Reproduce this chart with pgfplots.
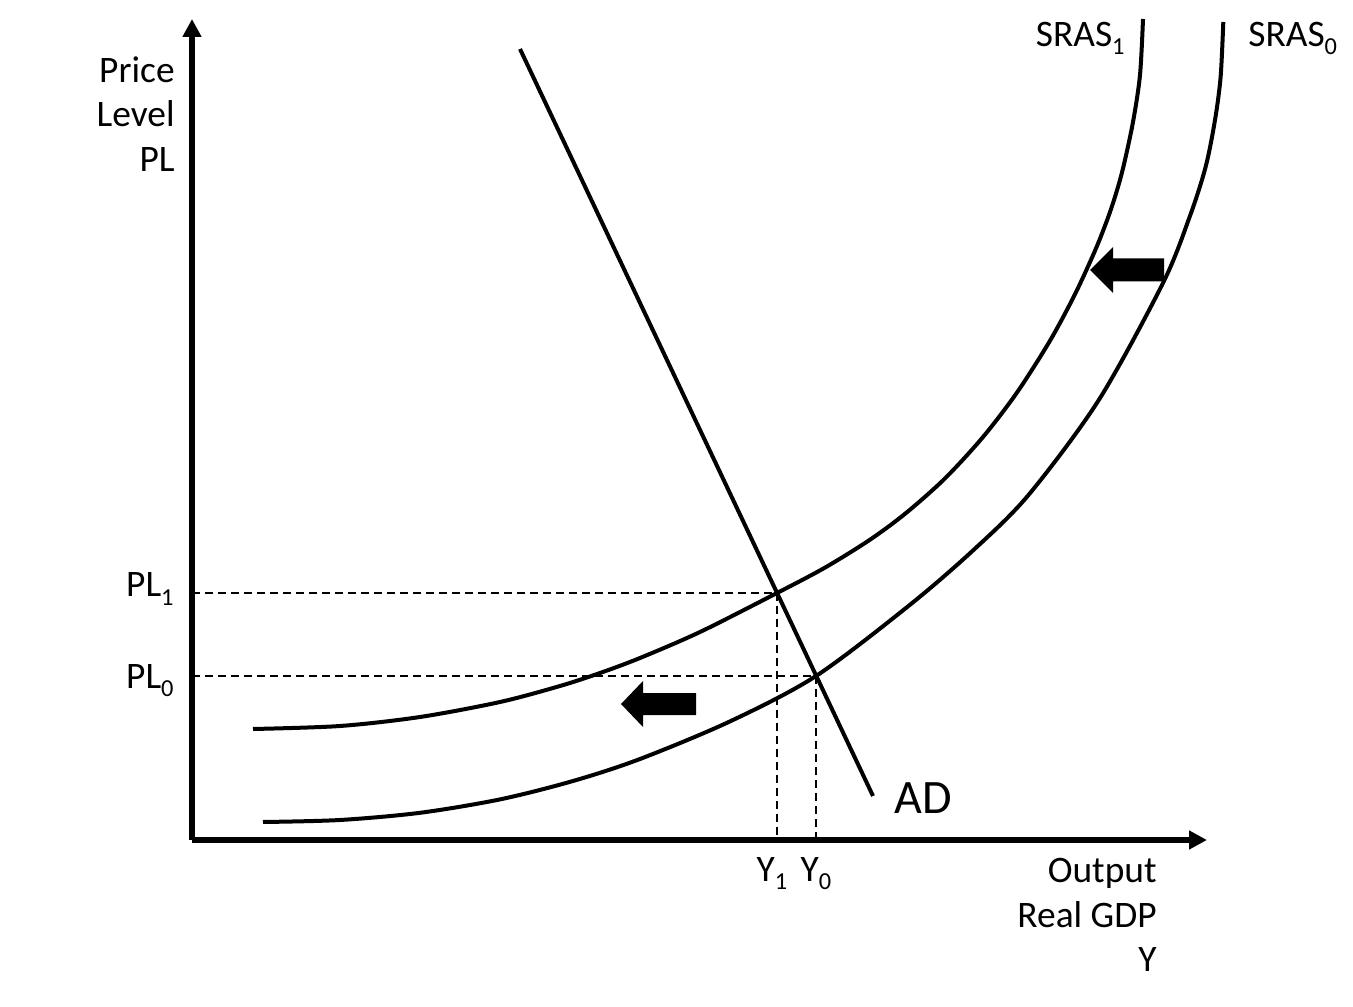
\documentclass[border=0pt]{standalone}
\usepackage{fontspec}
\setmainfont{Carlito}
\usepackage{pgfplots}
\pgfplotsset{compat=1.18}
\usetikzlibrary{arrows.meta}

% one drawing unit = 0.5pt
\newcommand\lbl{\fontsize{18.7}{22.25}\selectfont}
\newcommand\sub[1]{\raisebox{-4pt}{\fontsize{12.2}{14}\selectfont #1}}

\begin{document}
\begin{tikzpicture}
\begin{axis}[
  scale only axis,
  width=507.5pt, height=410.5pt,
  xmin=192, xmax=1207, ymin=166, ymax=987,
  axis lines=left,
  axis line style={line width=3pt, -{Triangle[length=9pt,width=9pt]}},
  clip=false,
  major tick length=0pt,
  xtick={777,816},
  xticklabels={Y\sub{1}\hspace*{5pt}, Y\sub{0}},
  ytick={330,413},
  yticklabels={\raisebox{-6pt}{PL\sub{0}}, \raisebox{-2pt}{PL\sub{1}}},
  xticklabel style={anchor=base, inner sep=0pt, yshift=-20.5pt, font=\lbl},
  yticklabel style={anchor=base east, inner sep=0pt, xshift=-9pt, font=\lbl},
  every axis x label/.style={at={(axis cs:1157,148)}, anchor=north east, align=right, inner sep=0pt, font=\lbl},
  every axis y label/.style={at={(axis cs:175,950)}, anchor=north east, align=right, inner sep=0pt, font=\lbl},
  xlabel={Output\\Real GDP\\Y},
  ylabel={Price\\Level\\PL},
]
% guide lines to the equilibria
\addplot[black, line width=1pt, dash pattern=on 4pt off 2.5pt] coordinates {(192,413) (777,413) (777,166)};
\addplot[black, line width=1pt, dash pattern=on 4pt off 2.5pt] coordinates {(192,330) (816,330) (816,166)};

% SRAS1 (shifted supply)
\addplot[black, line width=2pt, smooth] coordinates {
  (253,277) (340,280) (420,289) (500,304) (560,320) (600,333) (640,348)
  (700,374) (777,413) (825,438.4) (870,466.3) (906,493) (945,527.6)
  (983,569) (1017,613.5) (1050,665.3) (1075,711.8) (1095,755.3)
  (1107,785.6) (1115,809.2) (1123,837.6) (1133,884) (1140,931) (1143,987)};
% SRAS0 (initial supply)
\addplot[black, line width=2pt, smooth] coordinates {
  (263,184) (340,186) (420,193.2) (500,206.6) (573,225) (640,247) (730,284.6)
  (816,330) (909.7,401) (973.5,456) (1028.5,511) (1098.8,606) (1163,723)
  (1189.6,789) (1205.6,839) (1215,886) (1220.6,929) (1223.3,984)};
% aggregate demand
\addplot[black, line width=2pt] coordinates {(520,957) (873,210)};

% shift arrows
\addplot[fill=black, draw=none] coordinates {
  (621,302) (643,325) (643,313) (696,313) (696,291) (643,291) (643,279)} -- cycle;
\addplot[fill=black, draw=none] coordinates {
  (1090,736) (1113,759) (1113,747.5) (1164,747.5) (1164,724.5) (1113,724.5) (1113,713)} -- cycle;

\node[anchor=base west, inner sep=0pt, font=\fontsize{24}{28}\selectfont] at (axis cs:894,193) {AD};
\node[anchor=base east, inner sep=0pt, font=\lbl] at (axis cs:1125,959) {SRAS\sub{1}};
\node[anchor=base west, inner sep=0pt, font=\lbl] at (axis cs:1248,959) {SRAS\sub{0}};

\coordinate (bl) at (axis cs:0,0);
\coordinate (tr) at (axis cs:1353,1006);
\end{axis}
\pgfresetboundingbox
\path[use as bounding box] (bl) rectangle (tr);
\end{tikzpicture}
\end{document}
